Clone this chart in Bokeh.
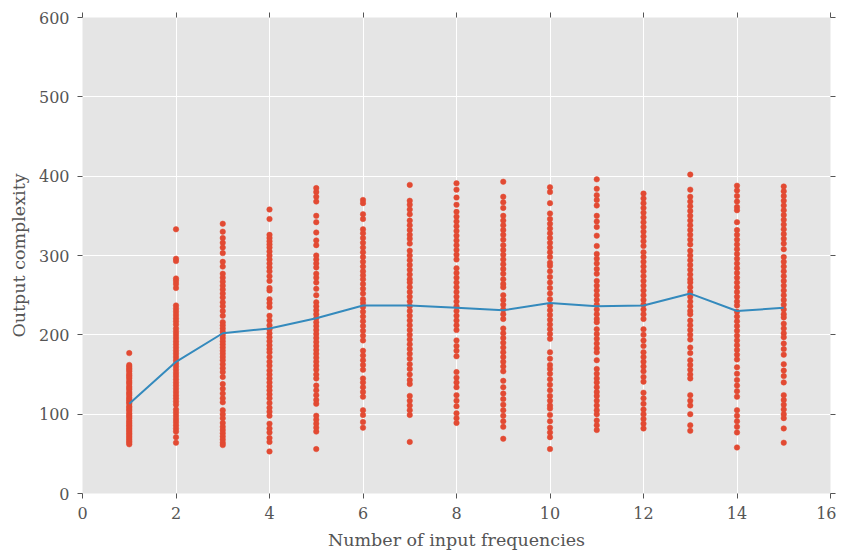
from bokeh.plotting import figure
from bokeh.models import LinearAxis, FixedTicker, Range1d, ColumnDataSource
from bokeh.embed import file_html
from bokeh.resources import INLINE

x_ticks = [0, 2, 4, 6, 8, 10, 12, 14, 16]
y_ticks = [0, 100, 200, 300, 400, 500, 600]

freqs = list(range(1, 16))
mean_complexity = [113, 166, 202, 208, 221, 237, 237, 234, 231, 240, 236, 237, 252, 230, 234]

c1 = [177, 162, 160, 158, 156, 154, 151, 149, 147, 145, 142, 140, 138, 135, 133, 131, 128, 126, 124, 121,
      119, 117, 115, 113, 110, 108, 106, 104, 101, 99, 97, 95, 92, 90, 88, 86, 84, 82, 80, 78,
      76, 74, 72, 70, 68, 66, 64, 62]
c2 = [333, 296, 293, 271, 268, 264, 259, 237, 233, 229, 225, 221, 217, 213, 208, 204, 200, 196, 192, 188,
      184, 180, 176, 172, 168, 164, 160, 156, 152, 148, 144, 140, 136, 132, 128, 124, 120, 116, 112, 106,
      102, 98, 94, 90, 86, 82, 78, 71, 64]
c3 = [340, 330, 322, 316, 310, 303, 292, 286, 277, 272, 267, 262, 257, 252, 247, 241, 236, 230, 224, 216,
      212, 208, 204, 200, 196, 192, 188, 184, 180, 176, 172, 168, 163, 158, 153, 147, 138, 132, 126, 120,
      115, 105, 100, 95, 89, 84, 80, 76, 72, 68, 64, 61]
c4 = [358, 346, 326, 322, 318, 314, 310, 305, 300, 295, 290, 285, 280, 274, 268, 259, 256, 245, 240, 235,
      224, 218, 212, 207, 202, 197, 192, 187, 182, 178, 172, 166, 161, 155, 150, 145, 140, 135, 130, 125,
      120, 114, 108, 103, 98, 88, 82, 77, 70, 65, 53]
c5 = [385, 380, 374, 368, 350, 342, 329, 319, 313, 300, 295, 290, 285, 277, 272, 266, 258, 250, 241, 236,
      231, 226, 221, 216, 211, 206, 201, 196, 191, 186, 181, 176, 171, 166, 161, 156, 150, 145, 136, 130,
      124, 118, 113, 98, 93, 88, 83, 78, 56]
c6 = [370, 366, 352, 346, 333, 328, 322, 316, 310, 304, 298, 292, 286, 280, 275, 270, 264, 258, 252, 245,
      240, 235, 229, 223, 217, 211, 205, 199, 193, 180, 174, 168, 162, 156, 145, 140, 134, 128, 122, 105,
      99, 90, 83]
c7 = [389, 369, 364, 358, 352, 344, 338, 332, 326, 321, 315, 306, 300, 294, 288, 282, 276, 270, 266, 260,
      254, 248, 242, 236, 230, 224, 218, 212, 206, 200, 194, 188, 182, 176, 170, 163, 157, 150, 143, 138,
      123, 117, 111, 105, 99, 65]
c8 = [391, 383, 373, 364, 355, 349, 343, 337, 331, 325, 319, 313, 307, 301, 295, 284, 278, 272, 266, 260,
      254, 248, 242, 236, 230, 224, 218, 212, 206, 193, 186, 180, 173, 153, 146, 140, 134, 124, 117, 110,
      101, 95, 89]
c9 = [393, 374, 367, 360, 350, 344, 338, 332, 326, 320, 313, 307, 301, 295, 289, 283, 277, 270, 264, 260,
      250, 244, 238, 232, 226, 220, 208, 202, 196, 190, 184, 178, 172, 166, 160, 154, 142, 134, 126, 119,
      112, 105, 98, 91, 84, 69]
c10 = [386, 380, 366, 353, 346, 340, 334, 328, 322, 316, 310, 304, 298, 291, 287, 280, 273, 266, 259, 252,
       245, 237, 231, 225, 219, 213, 207, 201, 195, 178, 170, 162, 157, 151, 144, 137, 130, 123, 117, 111,
       107, 99, 91, 83, 77, 71, 56]
c11 = [396, 384, 376, 370, 363, 350, 343, 336, 325, 312, 302, 296, 290, 283, 277, 268, 262, 256, 250, 244,
       238, 232, 226, 220, 216, 207, 201, 195, 189, 183, 178, 168, 157, 151, 145, 140, 134, 128, 123, 117,
       111, 105, 100, 92, 86, 80]
c12 = [378, 372, 366, 360, 354, 348, 342, 336, 330, 324, 318, 312, 304, 298, 292, 286, 280, 274, 268, 262,
       256, 250, 244, 238, 232, 226, 220, 207, 200, 193, 186, 178, 172, 166, 160, 154, 147, 141, 127, 120,
       113, 106, 100, 94, 88, 82]
c13 = [402, 383, 374, 368, 362, 356, 350, 344, 338, 332, 326, 320, 314, 306, 300, 294, 288, 282, 276, 270,
       266, 260, 254, 248, 242, 236, 230, 226, 218, 212, 206, 200, 194, 184, 177, 168, 162, 156, 150, 145,
       124, 117, 111, 100, 86, 79]
c14 = [388, 382, 375, 368, 361, 357, 342, 332, 326, 320, 314, 308, 302, 296, 290, 284, 278, 272, 266, 260,
       254, 248, 242, 237, 229, 223, 217, 211, 205, 199, 193, 187, 181, 175, 169, 159, 151, 143, 136, 129,
       122, 105, 98, 91, 84, 77, 58]
c15 = [387, 381, 375, 369, 363, 357, 351, 345, 339, 333, 327, 321, 315, 308, 298, 292, 286, 280, 274, 268,
       262, 256, 250, 244, 238, 232, 226, 222, 214, 208, 202, 197, 189, 182, 175, 163, 155, 148, 140, 124,
       118, 112, 106, 100, 95, 82, 64]

columns = [c1, c2, c3, c4, c5, c6, c7, c8, c9, c10, c11, c12, c13, c14, c15]
xs, ys = [], []
for f, col in zip(freqs, columns):
    xs.extend([f] * len(col))
    ys.extend(col)

FONT = "DejaVu Serif"
TXT = "#555555"

p = figure(width=836, height=556, output_backend="svg", toolbar_location=None,
           x_range=Range1d(0, 16), y_range=Range1d(0, 600),
           min_border_left=82, min_border_right=6, min_border_top=17, min_border_bottom=63)
p.background_fill_color = "#E5E5E5"
p.border_fill_color = "white"
p.outline_line_color = None

p.xgrid.ticker = FixedTicker(ticks=x_ticks)
p.ygrid.ticker = FixedTicker(ticks=y_ticks)
p.grid.grid_line_color = "white"
p.grid.grid_line_width = 1

for ax, ticks in ((p.xaxis[0], x_ticks), (p.yaxis[0], y_ticks)):
    ax.ticker = FixedTicker(ticks=ticks)
    ax.axis_line_color = None
    ax.major_tick_line_color = TXT
    ax.major_tick_out = 5
    ax.major_tick_in = 0
    ax.minor_tick_line_color = None
    ax.major_label_text_font = FONT
    ax.major_label_text_font_size = "16px"
    ax.major_label_text_color = TXT
    ax.axis_label_text_font = FONT
    ax.axis_label_text_font_size = "17.5px"
    ax.axis_label_text_font_style = "normal"
    ax.axis_label_text_color = TXT
    ax.major_label_standoff = 8

p.xaxis.axis_label = "Number of input frequencies"
p.yaxis.axis_label = "Output complexity"
p.xaxis.axis_label_standoff = 8
p.yaxis.axis_label_standoff = 7

for loc, ticks in (("right", y_ticks), ("above", x_ticks)):
    ax = LinearAxis(ticker=FixedTicker(ticks=ticks), axis_line_color=None,
                    major_tick_line_color=TXT, major_tick_out=5, major_tick_in=0,
                    minor_tick_line_color=None, major_label_text_font_size="1px",
                    major_label_text_color=None, major_label_standoff=0)
    p.add_layout(ax, loc)

src = ColumnDataSource(data=dict(x=xs, y=ys))
p.scatter("x", "y", source=src, size=5.5, fill_color="#E24A33", line_color="#E24A33", line_width=0.5)
p.line(freqs, mean_complexity, line_color="#348ABD", line_width=2)

open("out.html", "w").write(file_html(p, INLINE))
